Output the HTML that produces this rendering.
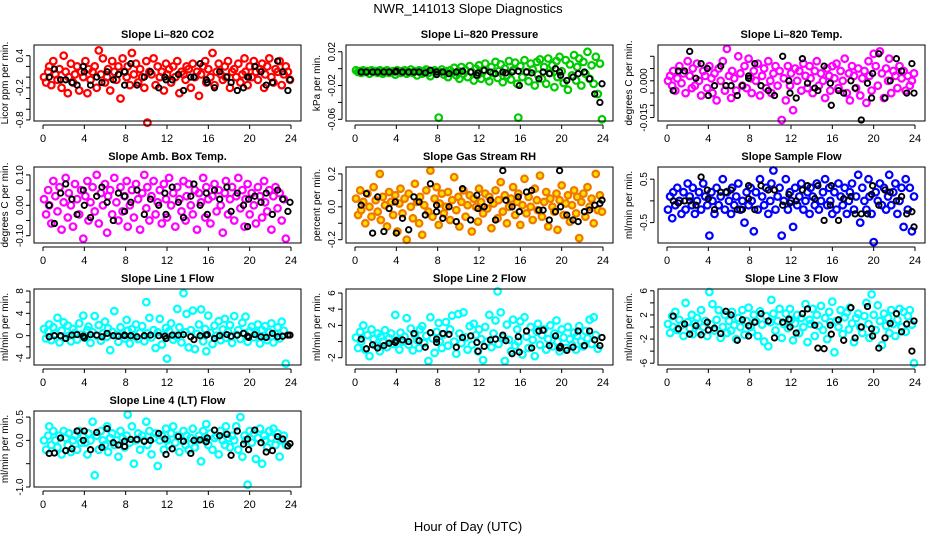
<!DOCTYPE html>
<html><head><meta charset="utf-8"><style>
html,body{margin:0;padding:0;background:#fff;}
svg{display:block;font-family:"Liberation Sans","DejaVu Sans",sans-serif;}
</style></head><body>
<svg id="chart" width="936" height="540" viewBox="0 0 936 540" xmlns="http://www.w3.org/2000/svg">
<text x="468" y="13" text-anchor="middle" font-size="13">NWR_141013  Slope Diagnostics</text>
<text x="468" y="531" text-anchor="middle" font-size="13">Hour of Day (UTC)</text>
<g id="panels"></g>
</svg>
<script>
const hours = [0.1,0.3,0.5,0.6,0.8,1.0,1.2,1.4,1.6,1.8,2.0,2.2,2.4,2.5,2.7,2.9,3.1,3.3,3.5,3.7,3.9,4.1,4.3,4.4,4.6,4.8,5.0,5.2,5.4,5.6,5.8,6.0,6.2,6.3,6.5,6.7,6.9,7.1,7.3,7.5,7.7,7.9,8.1,8.2,8.4,8.6,8.8,9.0,9.2,9.4,9.6,9.8,10.0,10.1,10.3,10.5,10.7,10.9,11.1,11.3,11.5,11.7,11.9,12.0,12.2,12.4,12.6,12.8,13.0,13.2,13.4,13.6,13.8,13.9,14.1,14.3,14.5,14.7,14.9,15.1,15.3,15.5,15.7,15.8,16.0,16.2,16.4,16.6,16.8,17.0,17.2,17.4,17.6,17.7,17.9,18.1,18.3,18.5,18.7,18.9,19.1,19.3,19.5,19.6,19.8,20.0,20.2,20.4,20.6,20.8,21.0,21.2,21.4,21.5,21.7,21.9,22.1,22.3,22.5,22.7,22.9,23.1,23.3,23.5,23.7,23.9];
const blackHours = [0.6,1.1,1.7,2.2,2.8,3.3,3.9,4.0,4.6,5.2,5.7,6.2,6.8,7.3,7.9,7.9,8.5,9.1,9.8,10.4,11.2,11.8,11.9,12.5,13.1,13.6,14.3,14.6,15.2,15.8,15.9,16.6,17.1,17.8,18.2,18.8,19.4,19.8,19.9,20.5,21.1,21.6,22.2,22.7,23.2,23.7,23.9];
const xTicks = [0,4,8,12,16,20,24];

const co2Vals = [0.0,-0.1,0.1,0.2,-0.15,0.3,0.05,-0.05,0.15,-0.2,0.4,0.1,-0.3,0.0,0.25,-0.1,0.05,0.2,-0.25,0.1,0.0,0.3,-0.3,0.15,-0.05,0.1,0.2,-0.2,0.5,0.05,0.35,-0.1,0.0,0.15,-0.25,0.3,0.1,-0.05,0.2,-0.4,0.35,0.1,0.0,0.2,-0.15,0.45,0.05,0.25,-0.1,0.15,0.0,-0.2,0.3,-0.85,0.1,0.05,0.35,-0.15,0.2,0.0,0.1,-0.25,0.25,0.05,0.15,-0.1,0.2,0.0,0.3,-0.3,0.1,0.05,-0.05,0.2,0.15,-0.2,0.25,0.0,0.1,-0.35,0.05,0.2,0.3,-0.1,0.15,0.0,0.45,-0.15,0.1,0.25,0.05,-0.05,0.2,0.0,0.3,-0.2,0.1,0.15,0.0,0.25,-0.1,0.05,0.35,0.1,-0.15,0.2,0.0,0.3,0.1,-0.05,0.15,0.25,-0.2,0.05,0.2,0.35,0.0,-0.1,0.15,0.1,0.3,-0.15,0.05,0.2,0.1,-0.05];
const co2Black = [0.0,0.15,-0.05,-0.05,-0.1,-0.15,0.2,0.1,-0.15,0.0,-0.1,0.1,-0.05,0.05,0.1,-0.15,0.25,-0.15,0.0,0.1,-0.2,0.0,-0.05,-0.05,0.05,-0.25,0.0,0.0,0.25,-0.05,-0.1,-0.2,0.1,0.0,-0.1,-0.25,-0.2,0.0,0.0,0.2,0.1,-0.15,-0.1,0.3,0.1,-0.25,-0.05];

const presVals = [-0.002,-0.004,-0.003,-0.005,-0.002,-0.004,-0.003,-0.006,-0.002,-0.004,-0.003,-0.005,-0.002,-0.004,-0.006,-0.003,-0.002,-0.005,-0.004,-0.003,-0.007,-0.002,-0.004,-0.005,-0.003,-0.002,-0.006,-0.004,-0.001,-0.005,-0.003,-0.008,-0.002,-0.004,-0.006,-0.003,-0.001,-0.005,-0.009,-0.003,-0.002,-0.006,-0.058,-0.004,-0.001,-0.007,-0.003,-0.010,-0.002,-0.005,0.001,-0.008,-0.003,-0.012,0.002,-0.006,-0.002,-0.010,0.003,-0.004,-0.014,0.000,-0.007,0.004,-0.012,-0.002,0.006,-0.009,-0.015,0.002,-0.005,0.008,-0.011,-0.003,0.005,-0.016,0.000,-0.008,0.009,-0.013,-0.002,0.007,-0.018,-0.058,0.003,-0.010,0.010,-0.004,-0.015,0.006,-0.001,-0.020,0.008,-0.007,0.011,-0.012,0.002,-0.018,0.012,-0.005,0.004,-0.022,0.009,-0.010,0.014,-0.003,-0.017,0.010,-0.025,0.005,-0.008,0.016,-0.014,0.002,0.012,-0.020,0.008,-0.006,0.020,-0.012,0.004,-0.018,0.014,-0.030,0.006,-0.060];
const presBlack = [-0.004,-0.004,-0.004,-0.004,-0.004,-0.004,-0.004,-0.003,-0.004,-0.004,-0.004,-0.004,-0.005,-0.002,-0.004,-0.007,-0.004,-0.006,-0.004,-0.003,-0.004,-0.008,-0.005,-0.002,-0.004,-0.006,-0.004,-0.005,-0.004,-0.003,-0.020,-0.004,-0.005,-0.012,-0.004,-0.006,0.000,-0.004,-0.008,-0.014,-0.010,-0.006,-0.004,-0.012,-0.030,-0.040,-0.018];

const tempVals = [0.000,0.002,-0.002,0.004,-0.004,0.001,0.006,-0.001,0.003,-0.005,0.008,0.002,-0.003,0.005,-0.002,0.007,0.000,-0.006,0.004,0.002,-0.003,0.006,0.001,-0.005,0.003,-0.008,0.005,0.000,0.008,-0.004,0.013,0.002,-0.007,0.004,0.001,-0.004,0.010,0.003,-0.002,0.006,-0.003,0.009,0.001,-0.005,0.004,0.000,0.007,-0.006,0.002,0.005,-0.003,0.008,0.000,-0.005,0.003,0.006,-0.002,0.004,-0.016,0.001,-0.008,0.006,-0.002,0.003,-0.012,0.005,0.000,0.004,-0.004,0.007,0.002,-0.003,0.006,0.001,-0.005,0.004,0.008,-0.002,0.003,0.000,-0.007,0.005,0.002,-0.004,0.006,0.001,0.007,-0.003,0.004,0.000,0.009,-0.005,0.003,-0.008,0.006,0.002,-0.003,0.005,-0.006,0.001,0.004,-0.009,0.008,0.002,-0.004,0.011,0.006,-0.002,0.012,0.003,-0.007,0.005,0.000,0.009,-0.005,0.004,0.002,-0.003,0.006,0.001,0.004,-0.004,0.002,-0.002,0.000,0.003];
const tempBlack = [-0.004,0.004,0.004,0.012,0.001,0.007,0.005,-0.006,-0.002,0.006,-0.002,-0.002,-0.006,-0.002,0.002,0.001,0.007,-0.002,-0.004,-0.006,0.010,0.000,-0.005,-0.007,0.009,-0.001,-0.003,-0.004,0.006,-0.001,-0.010,-0.004,-0.005,0.000,-0.003,-0.016,-0.001,-0.007,0.003,0.011,-0.007,0.000,0.009,0.004,-0.005,0.007,-0.005];

const ambVals = [0.02,-0.03,0.05,0.00,-0.06,0.08,0.03,-0.02,0.06,-0.08,0.01,0.09,-0.04,0.04,0.00,-0.07,0.07,0.02,-0.03,0.05,-0.11,0.03,0.08,-0.05,0.01,0.06,-0.02,0.10,-0.06,0.04,0.00,0.07,-0.09,0.03,0.05,-0.03,0.09,0.01,-0.05,0.06,-0.02,0.03,0.08,-0.07,0.00,0.05,-0.04,0.07,0.02,-0.08,0.04,0.10,-0.01,0.06,-0.05,0.03,0.08,-0.03,0.01,0.05,-0.06,0.07,0.02,-0.04,0.09,0.00,0.04,-0.07,0.06,0.02,-0.02,0.08,-0.05,0.03,0.07,0.00,-0.03,0.05,-0.08,0.04,0.01,0.09,-0.04,0.06,0.02,-0.06,0.03,0.07,-0.02,0.05,0.00,-0.09,0.04,0.08,-0.03,0.02,0.06,-0.05,0.03,0.09,-0.01,0.05,-0.07,0.02,0.07,-0.03,0.04,0.00,-0.06,0.06,0.03,-0.04,0.08,0.01,-0.02,0.05,-0.08,0.03,0.06,-0.01,0.04,-0.05,0.02,-0.11];
const ambBlack = [0.00,-0.06,0.04,0.07,0.02,-0.03,0.05,0.00,-0.04,0.03,0.06,0.01,-0.05,0.04,-0.02,0.03,0.01,0.05,-0.03,0.02,0.00,0.04,-0.03,0.06,0.01,-0.04,0.03,0.07,0.00,0.04,-0.03,0.05,0.02,0.06,-0.02,0.04,0.00,-0.07,0.02,0.03,0.01,0.04,-0.03,0.05,0.02,-0.02,0.01];

const rhVals = [0.05,-0.05,0.10,-0.02,0.03,-0.10,0.08,0.00,-0.06,0.12,0.04,-0.03,0.20,-0.08,0.06,0.01,-0.12,0.09,0.03,-0.05,0.07,-0.15,0.02,0.11,-0.04,0.05,-0.20,0.08,0.00,-0.07,0.14,0.03,-0.10,0.06,-0.17,0.01,0.10,-0.03,0.22,-0.06,0.05,0.12,-0.11,0.02,0.08,-0.04,0.00,0.09,-0.08,0.04,0.18,-0.02,0.06,-0.12,0.03,0.10,-0.06,0.01,0.07,-0.15,0.05,0.00,-0.09,0.11,0.03,-0.04,0.08,-0.01,0.06,-0.13,0.02,0.10,-0.07,0.04,0.15,-0.03,0.07,-0.10,0.00,0.05,0.12,-0.05,0.03,0.08,-0.11,0.01,0.17,-0.04,0.06,0.00,-0.08,0.11,0.04,-0.02,0.19,-0.06,0.03,0.09,-0.12,0.05,0.00,-0.03,0.08,-0.14,0.04,0.13,-0.05,0.02,0.07,-0.09,0.01,0.10,-0.04,0.06,-0.19,0.03,0.08,-0.06,0.12,0.00,0.05,-0.10,0.20,-0.02,0.07,-0.03];
const rhBlack = [0.01,0.08,-0.16,0.06,-0.15,-0.01,0.03,-0.16,-0.07,-0.14,0.06,0.03,-0.05,0.14,0.01,-0.03,-0.07,0.00,-0.09,0.11,-0.08,0.07,-0.01,0.00,0.04,-0.08,0.22,0.04,0.00,0.06,-0.03,0.09,0.10,-0.02,-0.02,-0.08,-0.03,0.22,0.00,-0.05,-0.08,-0.09,-0.03,-0.02,0.01,0.02,0.04];

const sampVals = [-0.2,0.1,-0.4,0.2,-0.1,0.3,0.0,-0.3,0.2,-0.2,0.4,0.1,-0.1,0.3,-0.3,0.0,0.2,-0.2,0.4,0.1,-0.1,-0.8,0.2,0.0,-0.3,0.3,-0.1,0.1,0.5,-0.2,0.2,0.0,-0.3,0.3,-0.1,0.1,0.4,-0.2,0.0,-0.5,0.2,-0.1,0.3,0.0,-0.7,0.2,-0.2,0.5,0.1,-0.1,0.3,-0.3,0.0,0.4,0.7,-0.2,0.1,0.3,-0.8,0.0,0.5,-0.2,0.2,0.0,-0.6,0.3,-0.1,0.1,0.4,-0.2,0.0,0.2,-0.3,0.3,0.1,-0.1,0.4,-0.2,0.0,0.2,0.5,-0.1,0.3,0.0,-0.3,0.2,-0.2,0.4,0.1,-0.1,0.3,-0.3,0.0,0.2,0.4,-0.2,0.1,0.6,-0.5,0.3,0.0,-0.2,0.5,0.1,-0.3,-0.95,0.2,0.0,0.4,-0.1,0.3,-0.2,0.1,0.6,-0.1,0.2,0.4,-0.3,0.0,0.3,-0.6,0.5,-0.2,0.3,-0.7,0.1,0.4,-0.4];
const sampBlack = [0.0,-0.05,0.0,0.0,-0.1,0.55,0.25,0.05,-0.2,0.2,0.2,0.25,-0.2,-0.2,0.05,0.35,-0.2,0.35,0.25,0.25,-0.1,0.15,-0.05,0.0,0.25,0.35,0.05,0.35,-0.45,-0.1,0.35,-0.45,0.05,0.1,-0.3,-0.3,-0.3,0.15,0.35,-0.1,0.25,0.2,0.0,0.1,-0.3,-0.25,-0.6];

const l1Vals = [1.2,-0.5,0.8,2.0,-0.8,1.5,0.3,3.2,-1.2,0.9,2.4,-0.3,1.8,0.0,-1.0,1.2,0.5,-0.7,2.2,0.2,3.6,-0.4,1.0,1.6,-1.3,0.6,3.5,0.0,1.9,-0.9,0.4,2.5,-0.2,1.3,-2.6,0.7,4.4,0.1,-1.1,1.5,0.3,-0.5,2.8,0.9,-1.4,1.2,0.0,2.0,-0.6,0.5,1.7,-1.0,6.0,0.4,3.2,-0.3,1.0,-2.2,0.6,3.0,-1.6,0.2,1.4,-4.1,0.8,2.2,-0.7,0.0,4.8,1.5,-1.2,7.6,0.6,3.9,-2.1,1.0,4.5,-2.4,0.3,2.0,4.7,-1.0,1.2,-2.8,3.6,0.5,-1.5,1.8,0.0,2.6,-0.8,1.1,3.0,-0.4,0.7,1.9,-1.3,3.5,0.2,1.0,-0.6,2.3,0.4,3.4,-1.1,0.8,1.6,-0.3,0.5,2.0,-1.4,1.0,0.0,1.7,-0.8,0.6,2.2,-1.2,0.3,1.5,-0.5,2.5,0.9,-5.0];
const l1Black = [-0.2,0.0,0.0,-0.5,0.1,0.2,-0.1,-0.4,0.2,0.1,-0.2,0.4,0.0,-0.1,0.1,0.0,0.0,-0.2,0.0,0.1,0.0,-0.1,-0.5,0.1,0.1,0.2,-0.2,-0.7,0.0,0.1,0.2,-0.5,0.0,0.2,-0.1,0.1,0.4,-0.1,-0.3,0.2,-0.2,-0.3,0.4,-0.2,-0.1,0.1,0.1];

const l2Vals = [0.5,-0.8,1.2,0.0,2.0,-1.0,0.8,-1.8,1.5,0.3,-0.5,1.0,-1.2,0.6,0.0,1.4,-0.7,0.4,1.0,-0.3,3.3,0.2,-1.0,1.1,0.0,0.6,2.9,-0.4,1.6,-1.1,0.8,0.2,-0.8,1.5,1.9,-0.2,0.7,-2.4,3.0,0.4,-1.4,1.2,2.3,0.0,-0.8,0.9,2.4,-0.5,1.5,3.2,0.0,-1.5,3.4,1.0,-0.2,3.6,0.5,-1.0,1.9,-0.4,2.2,0.8,-1.2,1.5,0.3,-2.3,1.8,0.0,3.3,-0.7,1.0,2.6,6.2,-0.3,3.6,0.5,-2.4,2.1,0.2,-1.2,2.7,-0.5,1.5,0.0,2.5,-1.6,3.0,0.6,-0.8,1.8,0.2,-1.8,1.2,2.2,-0.4,0.8,1.5,-1.0,0.3,2.0,-0.6,1.0,2.6,0.0,-1.2,1.5,0.5,-0.8,1.8,0.3,-0.4,1.1,-1.0,0.7,1.9,0.0,-0.6,1.3,0.4,2.7,-0.3,3.0,0.8,-0.9];
const l2Black = [0.3,-0.9,-0.4,-0.8,-0.5,-0.2,-0.1,0.1,0.2,0.0,1.0,0.1,-0.7,1.1,-0.1,0.3,1.0,0.9,-0.7,0.5,0.7,-0.1,-1.2,-0.6,0.2,0.3,0.8,0.1,-1.5,0.6,-1.3,1.3,-0.8,1.3,1.4,-0.5,0.7,-0.8,-0.6,-1.1,-0.7,1.3,-0.5,1.3,0.2,-0.5,0.5];

const l3Vals = [0.5,-1.0,1.8,0.0,2.5,-0.5,1.2,0.3,-1.5,4.0,0.8,-0.2,2.0,-1.2,0.6,1.5,-0.8,2.8,0.0,1.0,-1.5,5.8,0.4,3.8,-0.6,1.2,2.8,-1.8,0.0,2.0,-1.0,1.0,-0.6,2.5,0.3,-2.0,1.5,0.0,2.8,-1.3,1.0,3.2,0.0,-0.8,2.0,1.0,-1.5,2.6,0.4,-2.4,1.8,-3.2,0.8,4.5,2.2,-0.6,1.0,3.0,-1.8,0.5,2.2,-0.2,3.0,1.2,-2.2,0.6,2.0,-1.0,1.5,0.0,3.8,-2.5,1.2,0.5,3.0,-1.5,2.0,0.2,3.5,-0.5,1.5,-2.0,2.5,0.8,4.2,-4.2,1.0,0.0,2.8,-1.2,1.6,2.4,-0.4,3.2,0.6,-2.5,1.5,2.2,0.0,-1.0,1.8,4.0,0.5,-1.8,5.4,2.0,-0.5,3.6,1.0,-3.0,2.2,0.2,1.5,-1.0,2.8,0.5,-1.5,1.2,3.0,0.0,2.5,-0.8,1.8,2.8,0.4,-6.0];
const l3Black = [1.8,-0.3,0.5,-1.2,0.2,-1.3,0.8,-0.5,-0.2,-1.1,2.6,2.0,-2.2,1.2,0.2,-1.5,0.8,2.2,1.0,-1.8,0.8,1.3,0.0,-1.0,2.2,3.0,0.3,-3.5,-3.6,0.3,-1.2,1.2,-2.2,3.2,-1.8,0.0,3.4,-0.3,-1.5,-3.5,-1.8,0.6,2.2,-0.8,0.5,-4.0,1.0];

const l4Vals = [0.0,-0.2,0.1,0.3,-0.1,0.2,0.0,-0.15,0.1,-0.3,0.2,0.05,-0.1,0.15,-0.25,0.0,0.1,-0.2,0.2,-0.05,0.1,-0.05,-0.3,0.15,0.0,0.4,-0.75,0.1,-0.2,0.2,0.0,-0.1,0.3,-0.25,0.05,0.15,-0.1,0.0,-0.35,0.2,0.05,-0.15,0.1,0.55,-0.05,0.3,-0.5,0.0,0.15,-0.2,0.1,0.0,0.4,-0.1,0.2,-0.3,0.05,0.15,-0.55,0.0,0.1,-0.2,0.25,0.0,-0.1,0.15,0.3,-0.05,0.1,-0.25,0.0,0.2,-0.1,0.1,-0.2,0.05,0.25,-0.15,0.0,0.1,-0.45,0.2,0.0,0.35,-0.1,0.15,-0.2,0.05,0.1,-0.3,0.2,0.0,-0.1,0.3,0.05,-0.15,0.1,0.0,0.3,-0.2,0.5,-0.35,0.1,0.0,-0.95,0.2,-0.05,0.15,-0.4,0.05,0.25,-0.5,0.1,0.0,-0.15,0.2,0.05,0.25,-0.1,0.15,-0.35,0.0,0.1,-0.1];
const l4Black = [-0.28,-0.27,0.05,-0.22,-0.18,0.2,0.0,0.2,-0.2,0.17,-0.15,0.25,-0.05,-0.1,-0.13,-0.02,0.02,0.02,-0.02,0.0,0.15,0.03,-0.3,-0.18,0.08,-0.02,-0.28,0.0,0.01,-0.03,0.05,0.22,0.1,0.13,-0.32,0.2,-0.08,0.03,-0.2,0.22,-0.05,-0.25,-0.22,0.08,0.03,-0.12,-0.07];

const panels = [
 {name:'co2',title:'Slope Li\u2013820 CO2',ylab:'Licor ppm per min.',col:0,row:0,y0:-0.82,y1:0.6,ticks:[-0.8,-0.6,-0.4,-0.2,0.0,0.2,0.4],labels:['-0.8','','','-0.2','','','0.4'],stroke:'#ff0000',v:co2Vals,b:co2Black},
 {name:'pressure',title:'Slope Li\u2013820 Pressure',ylab:'kPa per min.',col:1,row:0,y0:-0.062,y1:0.028,ticks:[-0.06,-0.04,-0.02,0.0,0.02],labels:['-0.06','','-0.02','','0.02'],stroke:'#00cc00',v:presVals,b:presBlack},
 {name:'temp',title:'Slope Li\u2013820 Temp.',ylab:'degrees C per min.',col:2,row:0,y0:-0.0164,y1:0.0146,ticks:[-0.015,-0.01,-0.005,0,0.005,0.01],labels:['-0.015','','','0.000','',''],stroke:'#ff00ff',v:tempVals,b:tempBlack},
 {name:'amb-box-temp',title:'Slope Amb. Box Temp.',ylab:'degrees C per min.',col:0,row:1,y0:-0.124,y1:0.126,ticks:[-0.1,-0.05,0,0.05,0.1],labels:['-0.10','','0.00','','0.10'],stroke:'#ff00ff',v:ambVals,b:ambBlack},
 {name:'gas-stream-rh',title:'Slope Gas Stream RH',ylab:'percent per min.',col:1,row:1,y0:-0.22,y1:0.242,ticks:[-0.2,-0.1,0,0.1,0.2],labels:['-0.2','','0.0','','0.2'],stroke:'#f07800',fill:'#ffe000',v:rhVals,b:rhBlack},
 {name:'sample-flow',title:'Slope Sample Flow',ylab:'ml/min per min.',col:2,row:1,y0:-0.97,y1:0.78,ticks:[-0.5,0,0.5],labels:['-0.5','','0.5'],stroke:'#0000ff',v:sampVals,b:sampBlack},
 {name:'line1-flow',title:'Slope Line 1 Flow',ylab:'ml/min per min.',col:0,row:2,y0:-5.25,y1:8.36,ticks:[-4,-2,0,2,4,6,8],labels:['-4','','0','','4','','8'],stroke:'#00ffff',v:l1Vals,b:l1Black},
 {name:'line2-flow',title:'Slope Line 2 Flow',ylab:'ml/min per min.',col:1,row:2,y0:-2.9,y1:6.5,ticks:[-2,0,2,4,6],labels:['-2','','2','4','6'],stroke:'#00ffff',v:l2Vals,b:l2Black},
 {name:'line3-flow',title:'Slope Line 3 Flow',ylab:'ml/min per min.',col:2,row:2,y0:-6.3,y1:6.3,ticks:[-6,-4,-2,0,2,4,6],labels:['-6','','-2','','2','','6'],stroke:'#00ffff',v:l3Vals,b:l3Black},
 {name:'line4-flow',title:'Slope Line 4 (LT) Flow',ylab:'ml/min per min.',col:0,row:3,y0:-1.0,y1:0.63,ticks:[-1.0,-0.5,0,0.5],labels:['-1.0','','0.0','0.5'],stroke:'#00ffff',v:l4Vals,b:l4Black}
];

const NS='http://www.w3.org/2000/svg';
const root=document.getElementById('panels');
function mk(tag,attrs,parent){const e=document.createElementNS(NS,tag);for(const k in attrs)e.setAttribute(k,attrs[k]);parent.appendChild(e);return e;}

panels.forEach(p=>{
  const x0=43+312*p.col, top=45+122*p.row, H=76, left=x0-9, right=x0+258, bottom=top+H;
  const xs=h=>x0+h*(248/24);
  const ys=v=>bottom-(v-p.y0)/(p.y1-p.y0)*H;
  const g=mk('g',{},root);
  
  
  const t=mk('text',{x:(left+right)/2,y:top-7,'text-anchor':'middle','font-size':11,'font-weight':'bold'},g);
  t.textContent=p.title;
  
  
  const pts=mk('g',{fill:p.fill||'none',stroke:p.stroke,'stroke-width':2.2},g);
  
  
  const n=Math.min(hours.length,p.v.length);
  for(let i=0;i<n;i++){
    const c=mk('circle',{cx:xs(hours[i]).toFixed(1),cy:ys(p.v[i]).toFixed(1),r:3.3},pts);
    
    
  }
  const bp=mk('g',{fill:'none',stroke:'#000','stroke-width':1.9},g);
  
  
  const m=Math.min(blackHours.length,p.b.length);
  for(let i=0;i<m;i++){
    const c=mk('circle',{cx:xs(blackHours[i]).toFixed(1),cy:ys(p.b[i]).toFixed(1),r:2.7},bp);
    
    
  }
  const box=mk('rect',{x:left,y:top,width:right-left,height:H,fill:'none',stroke:'#000','stroke-width':1},g);
  
  
  const xa=mk('g',{stroke:'#000','stroke-width':1},g);
  
  
  mk('line',{x1:xs(xTicks[0]),x2:xs(xTicks[xTicks.length-1]),y1:bottom+4,y2:bottom+4},xa);
  xTicks.forEach(v=>{
    mk('line',{x1:xs(v),x2:xs(v),y1:bottom+4,y2:bottom+8},xa);
    const l=mk('text',{x:xs(v),y:bottom+21,'text-anchor':'middle','font-size':11,stroke:'none',fill:'#000'},xa);
    l.textContent=v;
    
    
  });
  const ya=mk('g',{stroke:'#000','stroke-width':1},g);
  
  
  mk('line',{x1:left-4,x2:left-4,y1:ys(p.ticks[0]),y2:ys(p.ticks[p.ticks.length-1])},ya);
  p.ticks.forEach((v,i)=>{
    const y=ys(v);
    mk('line',{x1:left-4,x2:left-8,y1:y,y2:y},ya);
    if(p.labels[i]){
      const l=mk('text',{x:0,y:0,transform:`translate(${left-11},${y}) rotate(-90)`,'text-anchor':'middle','font-size':10,stroke:'none',fill:'#000'},ya);
      l.textContent=p.labels[i];
      
      
    }
  });
  const yl=mk('text',{x:0,y:0,transform:`translate(${left-26},${top+H/2}) rotate(-90)`,'text-anchor':'middle','font-size':10,fill:'#000'},g);
  yl.textContent=p.ylab;
  
  
});
</script>
</body></html>
